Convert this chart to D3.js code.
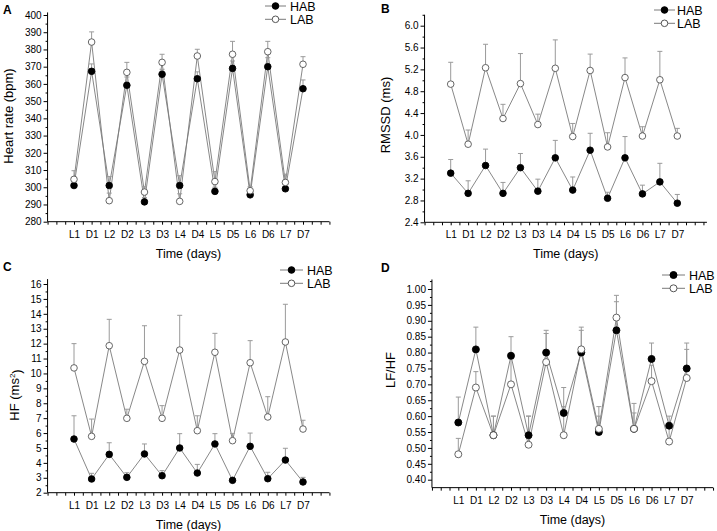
<!DOCTYPE html>
<html><head><meta charset="utf-8">
<script src="https://cdn.jsdelivr.net/npm/d3@7"></script>
<style>body{margin:0;background:#fff}svg{display:block;font-family:"Liberation Sans",Arial,sans-serif}</style>
</head><body><svg id="c" width="717" height="531"></svg>
<script>
const categories=["L1","D1","L2","D2","L3","D3","L4","D4","L5","D5","L6","D6","L7","D7"];
const seriesNames=["HAB","LAB"];

// A: Heart rate (bpm)
const hrHAB=[301,367.3,301,359.2,291.5,365.6,301,363,297.6,369,295.6,370,299.1,357.2];
const hrHABerr=[304,371.6,306.2,364,294,368.5,306.7,367,300,373.3,298,375.2,302,362.3];
const hrLAB=[304.6,384.3,292.2,366.7,297.2,372.5,291.8,376.2,303.3,377.2,298,378.7,302.8,371.4];
const hrLABerr=[309.6,390.2,296.6,372.5,300.3,377.2,296.2,380.1,309.1,384.7,300.3,384.7,307.6,375.8];

// B: RMSSD (ms)
const rmHAB=[3.30,2.93,3.44,2.93,3.40,2.97,3.58,2.99,3.72,2.84,3.58,2.92,3.14,2.75];
const rmHABerr=[3.55,3.16,3.74,3.13,3.66,3.19,3.90,3.23,4.03,2.95,3.97,3.08,3.48,2.91];
const rmLAB=[4.93,3.83,5.23,4.30,4.94,4.19,5.22,3.97,5.18,3.78,5.05,3.98,5.01,3.98];
const rmLABerr=[5.33,4.09,5.66,4.56,5.49,4.38,5.74,4.21,5.48,4.04,5.41,4.15,5.53,4.12];

// C: HF (ms2)
const hfHAB=[5.6,2.92,4.57,3.03,4.6,3.14,5.0,3.32,5.27,2.83,5.11,2.94,4.19,2.72];
const hfHABerr=[7.16,3.30,5.35,3.34,5.27,3.48,5.96,3.9,5.96,2.95,6.0,3.37,4.98,3.03];
const hfLAB=[10.37,5.78,11.86,6.99,10.81,6.99,11.57,6.16,11.42,5.49,10.72,7.08,12.11,6.27];
const hfLABerr=[12.0,6.94,13.63,7.6,13.2,7.84,13.9,7.16,12.69,5.98,12.2,8.44,14.64,6.86];

// D: LF/HF
const lfHAB=[0.58,0.81,0.54,0.79,0.54,0.80,0.61,0.80,0.55,0.87,0.56,0.78,0.57,0.75];
const lfHABerr=[0.66,0.88,0.60,0.85,0.60,0.87,0.69,0.88,0.63,0.96,0.64,0.83,0.60,0.83];
const lfLAB=[0.48,0.69,0.54,0.70,0.51,0.77,0.54,0.81,0.56,0.91,0.56,0.71,0.52,0.72];
const lfLABerr=[0.53,0.74,0.60,0.78,0.60,0.86,0.63,0.87,0.60,0.98,0.61,0.76,0.57,0.81];

const svg=d3.select("#c");
svg.append("rect").attr("width",717).attr("height",531).attr("fill","#fff");

const LINE="#7a7a7a", ERR="#9a9a9a";

function panel(o){
  const g=svg.append("g");
  const x=d3.scaleLinear().domain([0,13]).range([o.xL1,o.xD7]);
  const yRef=d3.scaleLinear().domain([o.yLo,o.yHi]).range([o.yLoPx,o.yHiPx]);
  const y=d3.scaleLinear().domain([o.yMin,o.yTop]).range([yRef(o.yMin),yRef(o.yTop)]);
  const xStart=x(-1.5), xEnd=x(o.xMax||14.5);
  const yBase=y(o.yMin);

  // x axis
  const xa=d3.axisBottom(x).tickValues(d3.range(-3,30).map(i=>i/2))
    .tickSize(3).tickSizeOuter(0).tickPadding(6)
    .tickFormat(d=>(Number.isInteger(d)&&d>=0&&d<=13)?categories[d]:"");
  const gx=g.append("g").attr("transform",`translate(0,${yBase})`).call(xa);
  gx.select(".domain").remove();
  gx.selectAll("text").attr("font-size",10).attr("font-family","Liberation Sans, Arial, sans-serif").attr("fill","#000");
  gx.selectAll("line").attr("stroke","#000");
  g.append("line").attr("x1",xStart).attr("x2",xEnd).attr("y1",yBase).attr("y2",yBase).attr("stroke","#000");

  // y axis
  const ya=d3.axisLeft(y).tickValues(o.majors).tickSize(4).tickPadding(2).tickFormat(d3.format(o.fmt));
  const gy=g.append("g").attr("transform",`translate(${xStart},0)`).call(ya);
  gy.select(".domain").remove();
  gy.selectAll("text").attr("font-size",10).attr("font-family","Liberation Sans, Arial, sans-serif").attr("fill","#000");
  gy.selectAll("line").attr("stroke","#000");
  const ym=d3.axisLeft(y).tickValues(o.minors).tickSize(2).tickFormat("");
  const gym=g.append("g").attr("transform",`translate(${xStart},0)`).call(ym);
  gym.select(".domain").remove();
  gym.selectAll("line").attr("stroke","#000");
  g.append("line").attr("x1",xStart).attr("x2",xStart).attr("y1",yBase).attr("y2",y(o.yTop)).attr("stroke","#000");

  // titles
  g.append("text").attr("x",(xStart+xEnd)/2).attr("y",yBase+36).attr("text-anchor","middle")
    .attr("font-size",12.5).text("Time (days)");
  const yt=g.append("text").attr("transform",`translate(${o.ytX},${o.ytY}) rotate(-90)`)
    .attr("text-anchor","middle").attr("dy","0.35em").attr("font-size",13);
  if(o.ytitleSup){ yt.append("tspan").text(o.ytitle); yt.append("tspan").attr("dy","-0.4em").attr("font-size",8).text(o.ytitleSup); yt.append("tspan").attr("dy","0.4em").text(")"); }
  else yt.text(o.ytitle);
  g.append("text").attr("x",o.letter[1]).attr("y",o.letter[2]).attr("font-size",12).attr("font-weight","bold").text(o.letter[0]);

  const idx=d3.range(categories.length);
  const line=d3.line().x(i=>x(i));
  const series=[{v:o.hab,e:o.habErr,fill:"#000"},{v:o.lab,e:o.labErr,fill:"#fff"}];
  series.forEach(s=>{
    g.append("path").datum(idx).attr("fill","none").attr("stroke",LINE).attr("stroke-width",0.9)
      .attr("d",line.y(i=>y(s.v[i])));
  });
  series.forEach(s=>{
    idx.forEach(i=>{
      g.append("line").attr("x1",x(i)).attr("x2",x(i)).attr("y1",y(s.v[i])).attr("y2",y(s.e[i])).attr("stroke",ERR).attr("stroke-width",1);
      g.append("line").attr("x1",x(i)-2.5).attr("x2",x(i)+2.5).attr("y1",y(s.e[i])).attr("y2",y(s.e[i])).attr("stroke",ERR).attr("stroke-width",1);
    });
  });
  series.forEach(s=>{
    g.selectAll(null).data(idx).enter().append("circle").attr("cx",i=>x(i)).attr("cy",i=>y(s.v[i]))
      .attr("r",o.r||3.3).attr("fill",s.fill).attr("stroke",s.fill==="#000"?"#000":"#555").attr("stroke-width",0.9);
  });
  const L=o.legend;
  seriesNames.forEach((n,k)=>{
    const yy=L.y+k*13.3;
    g.append("line").attr("x1",L.x1).attr("x2",L.x2).attr("y1",yy).attr("y2",yy).attr("stroke",LINE);
    g.append("circle").attr("cx",(L.x1+L.x2)/2).attr("cy",yy).attr("r",o.r||3.3)
      .attr("fill",k===0?"#000":"#fff").attr("stroke",k===0?"#000":"#555");
    g.append("text").attr("x",L.tx).attr("y",yy).attr("dy","0.36em").attr("font-size",12.5).text(n);
  });
}

panel({xL1:74,xD7:303,yLo:280,yHi:400,yLoPx:221.7,yHiPx:15,yMin:280,yTop:401.5,
  majors:d3.range(280,401,10),minors:d3.range(285,401,10),fmt:"d",
  hab:hrHAB,habErr:hrHABerr,lab:hrLAB,labErr:hrLABerr,
  ytitle:"Heart rate (bpm)",ytX:8,ytY:116,letter:["A",3,14],
  legend:{x1:265,x2:286,tx:290,y:6}});
panel({xL1:450.7,xD7:677.3,yLo:2.4,yHi:6.0,yLoPx:222.3,yHiPx:25.7,yMin:2.4,yTop:6.2,xMax:14.7,
  majors:d3.range(0,10).map(i=>2.4+i*0.4),minors:d3.range(0,10).map(i=>2.6+i*0.4),fmt:".1f",
  hab:rmHAB,habErr:rmHABerr,lab:rmLAB,labErr:rmLABerr,
  ytitle:"RMSSD (ms)",ytX:385,ytY:115,letter:["B",381,13],
  legend:{x1:654,x2:675,tx:677,y:10}});
panel({xL1:74,xD7:303,yLo:2,yHi:16,yLoPx:492.7,yHiPx:284,yMin:2,yTop:16.33,
  majors:d3.range(2,17,1),minors:d3.range(2.5,16.4,1),fmt:"d",
  hab:hfHAB,habErr:hfHABerr,lab:hfLAB,labErr:hfLABerr,
  ytitle:"HF (ms",ytitleSup:"2",ytX:14,ytY:395,letter:["C",3,271],
  legend:{x1:280,x2:303,tx:307,y:270}});
panel({xL1:458.3,xD7:686.7,yLo:0.40,yHi:1.00,yLoPx:479.7,yHiPx:289,yMin:0.375,yTop:1.03,
  majors:d3.range(0,13).map(i=>0.40+i*0.05),minors:d3.range(0,13).map(i=>0.425+i*0.05),fmt:".2f",
  hab:lfHAB,habErr:lfHABerr,lab:lfLAB,labErr:lfLABerr,r:3.5,
  ytitle:"LF/HF",ytX:390,ytY:370,letter:["D",381,272],
  legend:{x1:662,x2:685,tx:689,y:275}});
</script></body></html>
